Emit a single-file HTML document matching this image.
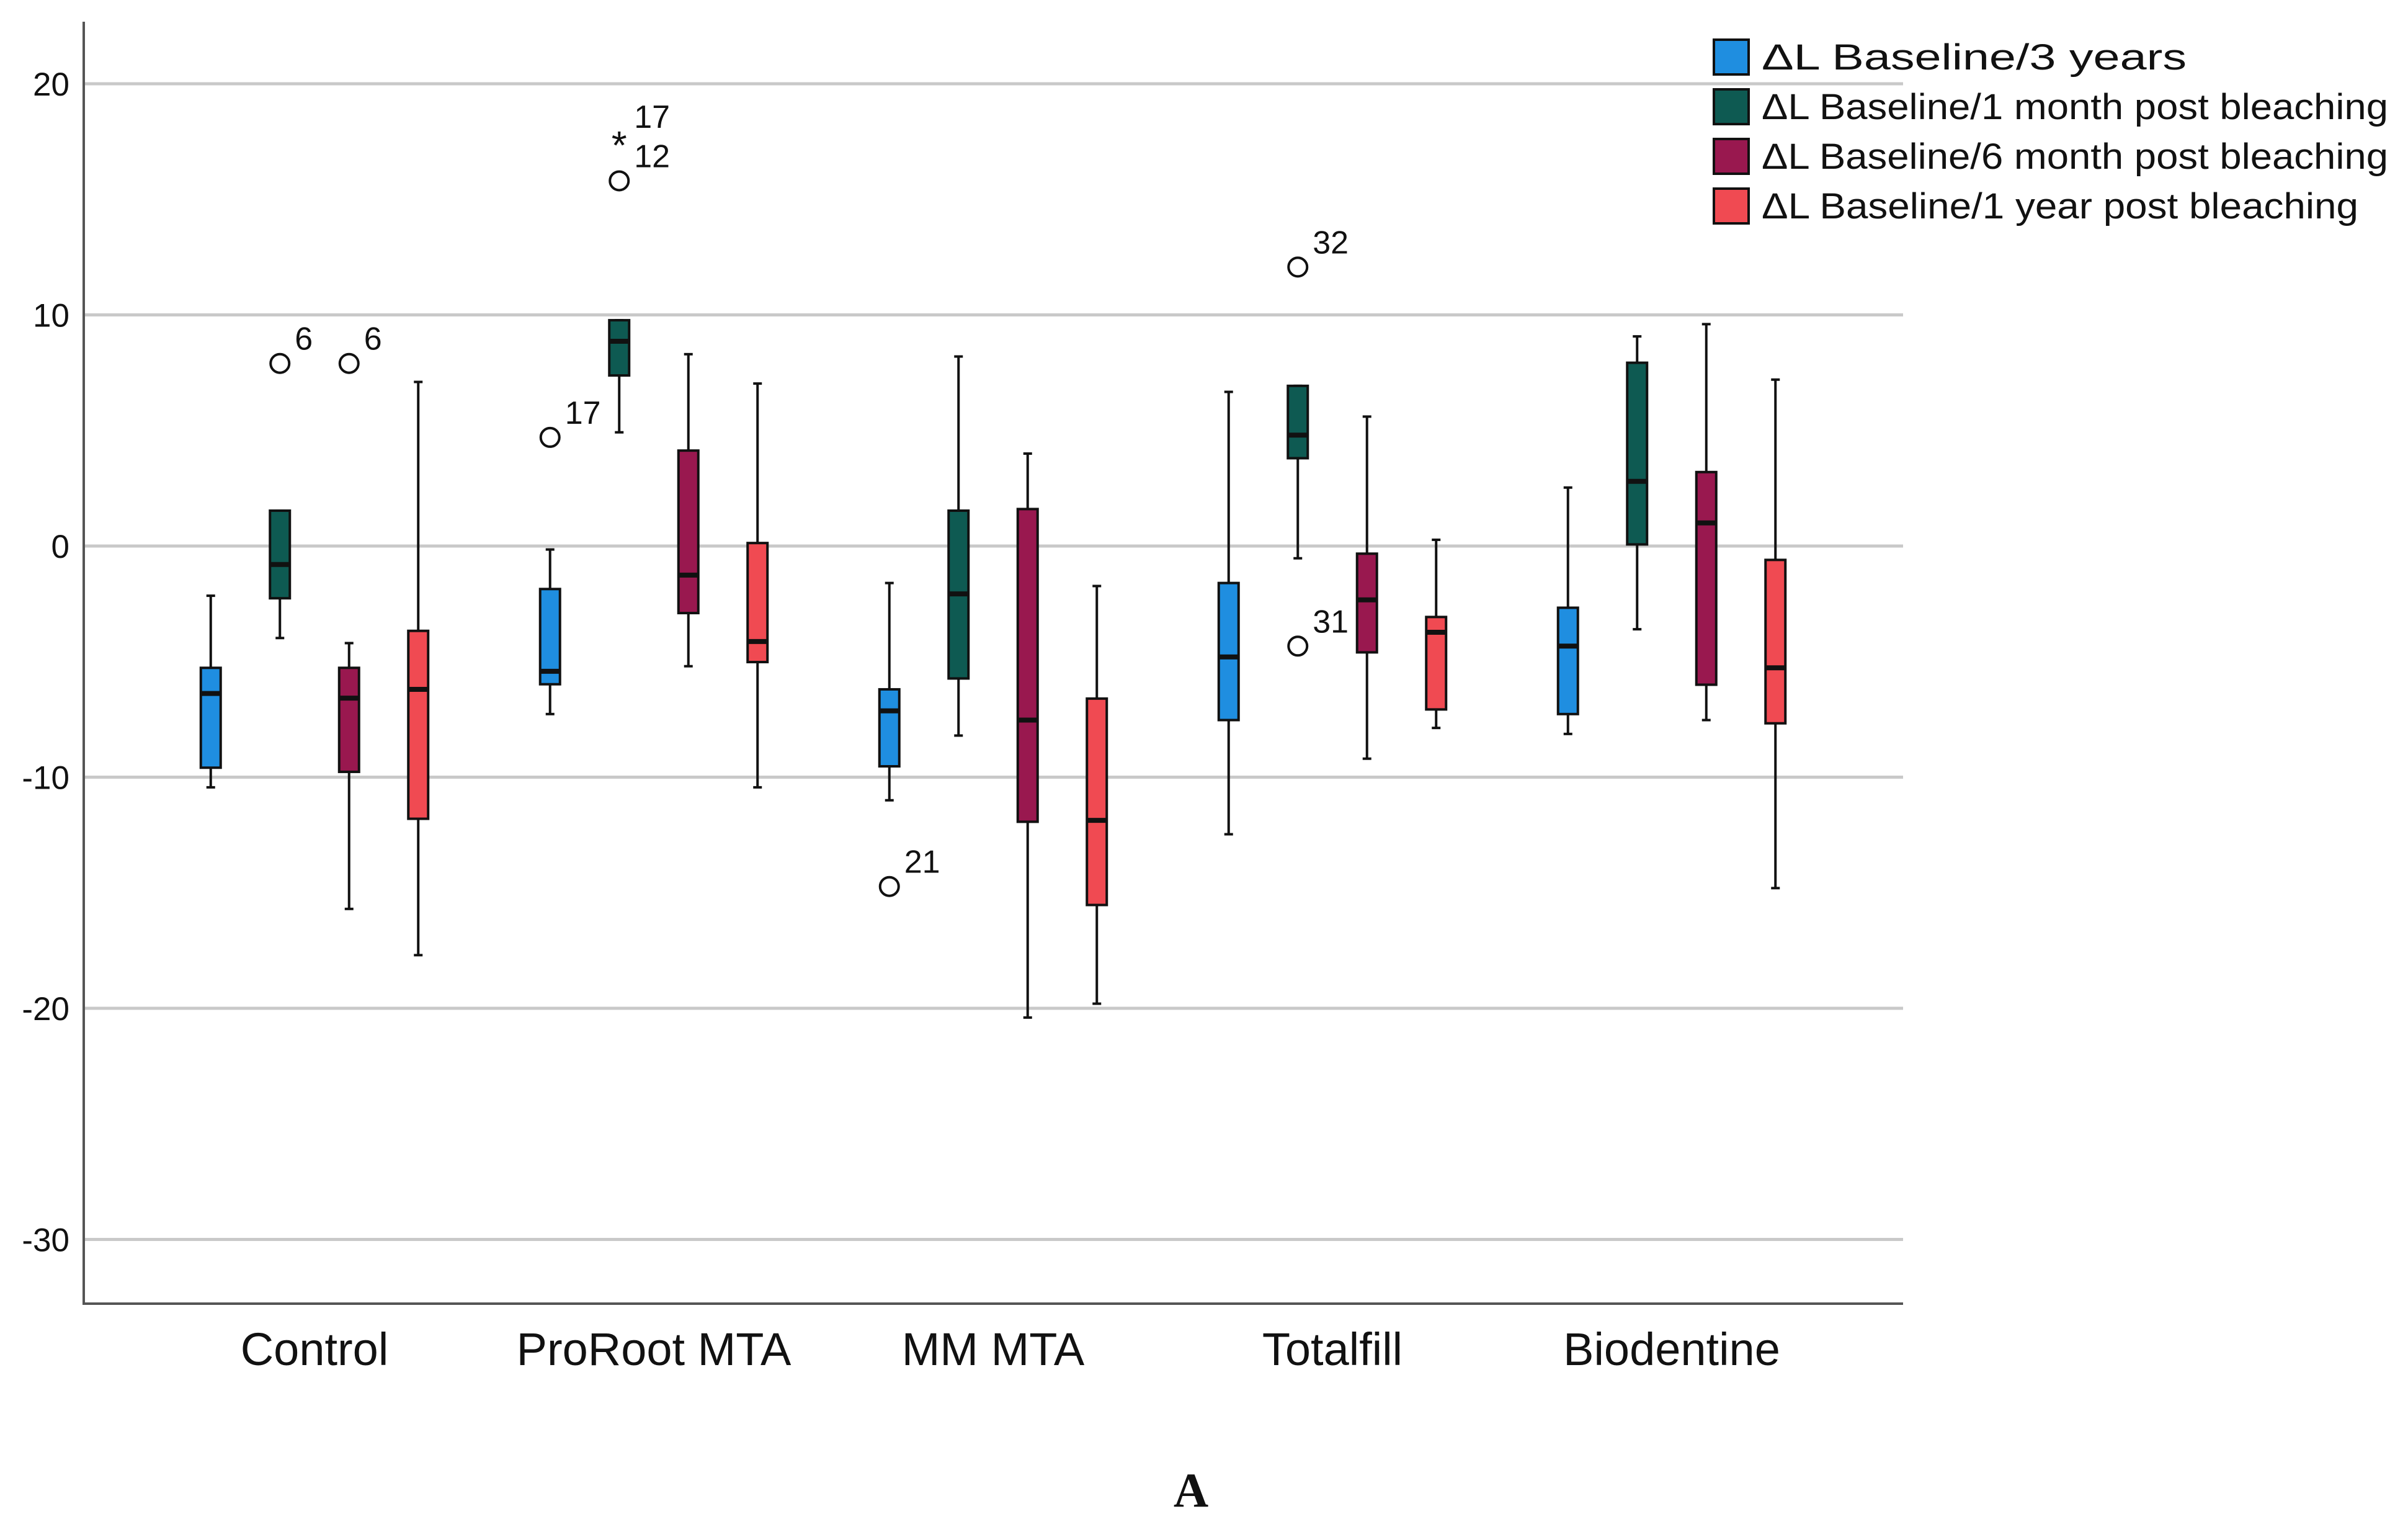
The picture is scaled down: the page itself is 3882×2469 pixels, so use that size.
<!DOCTYPE html>
<html><head><meta charset="utf-8"><style>
html,body{margin:0;padding:0;background:#fff;}
svg{display:block;}
text{font-family:"Liberation Sans",sans-serif;}
</style></head><body>
<svg id="chart" width="3882" height="2469" viewBox="0 0 3882 2469" xmlns="http://www.w3.org/2000/svg"></svg>
<script>
const categories = ["Control","ProRoot MTA","MM MTA","Totalfill","Biodentine"];
const seriesNames = ["ΔL Baseline/3 years","ΔL Baseline/1 month post bleaching","ΔL Baseline/6 month post bleaching","ΔL Baseline/1  year post bleaching"];
const seriesColors = ["#1f8ee0","#0e5a52","#99184f","#f04a52"];
const yTicks = [20,10,0,-10,-20,-30];
// each: [whiskerLow, Q1, median, Q3, whiskerHigh] per category
const baseline3y = [[-10.44,-9.59,-6.38,-5.27,-2.15],[-7.27,-5.98,-5.42,-1.86,-0.15],[-11,-9.53,-7.13,-6.2,-1.6],[-12.47,-7.53,-4.8,-1.6,6.67],[-8.13,-7.27,-4.33,-2.67,2.53]];
const baseline1m = [[-3.98,-2.26,-0.8,1.53,1.53],[4.92,7.38,8.86,9.77,9.77],[-8.2,-5.73,-2.07,1.53,8.2],[-0.53,3.8,4.8,6.93,6.93],[-3.6,0.07,2.8,7.93,9.07]];
const baseline6m = [[-15.7,-9.77,-6.58,-5.27,-4.2],[-5.2,-2.9,-1.26,4.13,8.3],[-20.4,-11.93,-7.53,1.6,4.0],[-9.2,-4.6,-2.33,-0.33,5.6],[-7.53,-6.0,1.0,3.2,9.6]];
const baseline1y = [[-17.7,-11.8,-6.2,-3.67,7.1],[-10.44,-5.02,-4.13,0.13,7.03],[-19.8,-15.53,-11.87,-6.6,-1.73],[-7.87,-7.07,-3.73,-3.07,0.27],[-14.8,-7.67,-5.27,-0.6,7.2]];
// [categoryIndex, seriesIndex, value, label, marker]
const outliers = [[0,1,7.9,"6","circle"],[0,2,7.9,"6","circle"],[1,0,4.7,"17","circle"],[1,1,17.5,"17","star"],[1,1,15.8,"12","circle"],[2,0,-14.73,"21","circle"],[3,1,12.07,"32","circle"],[3,1,-4.33,"31","circle"]];

const NS="http://www.w3.org/2000/svg";
const svg=document.getElementById('chart');
function mk(tag,attrs,parent){const e=document.createElementNS(NS,tag);for(const k in attrs)e.setAttribute(k,attrs[k]);(parent||svg).appendChild(e);return e;}
const plotL=135,plotR=3068,plotT=35,plotB=2101;
function y(v){return 880-v*37.25;}
function cxCat(ci){return 507+ci*547;}
function x(ci,si){return cxCat(ci)+(si-1.5)*111.5;}

yTicks.forEach(t=>{
  const g=mk('line',{x1:plotL,x2:plotR,y1:y(t),y2:y(t),stroke:'#c9c9c9','stroke-width':5});
  
  
  const tl=mk('text',{x:112,y:y(t)+19,'text-anchor':'end','font-size':53,fill:'#111'});
  tl.textContent=String(t);
  
  
});
const ax=mk('path',{d:`M${plotL} ${plotT} V${plotB} H${plotR}`,fill:'none',stroke:'#555','stroke-width':4});



categories.forEach((c,ci)=>{
  const t=mk('text',{x:cxCat(ci),y:2200,'text-anchor':'middle','font-size':74,fill:'#111'});
  t.textContent=c;
  
  
});

const allSeries=[baseline3y,baseline1m,baseline6m,baseline1y];
const bw=32;
allSeries.forEach((ser,si)=>{
  ser.forEach((s,ci)=>{
    const cx=x(ci,si);
    const g=mk('g',{});
    
    
    mk('line',{x1:cx,x2:cx,y1:y(s[0]),y2:y(s[1]),stroke:'#111','stroke-width':4},g);
    mk('line',{x1:cx,x2:cx,y1:y(s[3]),y2:y(s[4]),stroke:'#111','stroke-width':4},g);
    mk('line',{x1:cx-7,x2:cx+7,y1:y(s[0]),y2:y(s[0]),stroke:'#111','stroke-width':4},g);
    mk('line',{x1:cx-7,x2:cx+7,y1:y(s[4]),y2:y(s[4]),stroke:'#111','stroke-width':4},g);
    mk('rect',{x:cx-bw/2,y:y(s[3]),width:bw,height:Math.max(1,y(s[1])-y(s[3])),fill:seriesColors[si],stroke:'#111','stroke-width':4},g);
    mk('line',{x1:cx-bw/2,x2:cx+bw/2,y1:y(s[2]),y2:y(s[2]),stroke:'#111','stroke-width':8},g);
  });
});

outliers.forEach(o=>{
  const cx=x(o[0],o[1]),cy=y(o[2]);
  let m;
  if(o[4]==='circle'){m=mk('circle',{cx:cx,cy:cy,r:15,fill:'none',stroke:'#111','stroke-width':4});}
  else{m=mk('text',{x:cx,y:cy+28,'text-anchor':'middle','font-size':64,fill:'#111'});m.textContent='*';}
  
  
  const l=mk('text',{x:cx+24,y:cy-22,'font-size':52,fill:'#111'});
  l.textContent=o[3];
  
  
});

const lg=mk('g',{});


seriesNames.forEach((n,i)=>{
  const yy=64+i*80;
  const r=mk('rect',{x:2763,y:yy,width:56,height:56,fill:seriesColors[i],stroke:'#111','stroke-width':4},lg);
  
  
  const t=mk('text',{x:2840,y:yy+48,'font-size':58,fill:'#111'},lg);
  t.textContent=n;
  const widths=[685,1010,1010,962];
  t.setAttribute('textLength',widths[i]);
  t.setAttribute('lengthAdjust','spacingAndGlyphs');
  
  
});

const A=mk('text',{x:1920,y:2428,'text-anchor':'middle','font-size':78,'font-weight':'bold',fill:'#111'});
A.setAttribute('style','font-family:"Liberation Serif",serif');
A.textContent='A';


</script>
</body></html>
